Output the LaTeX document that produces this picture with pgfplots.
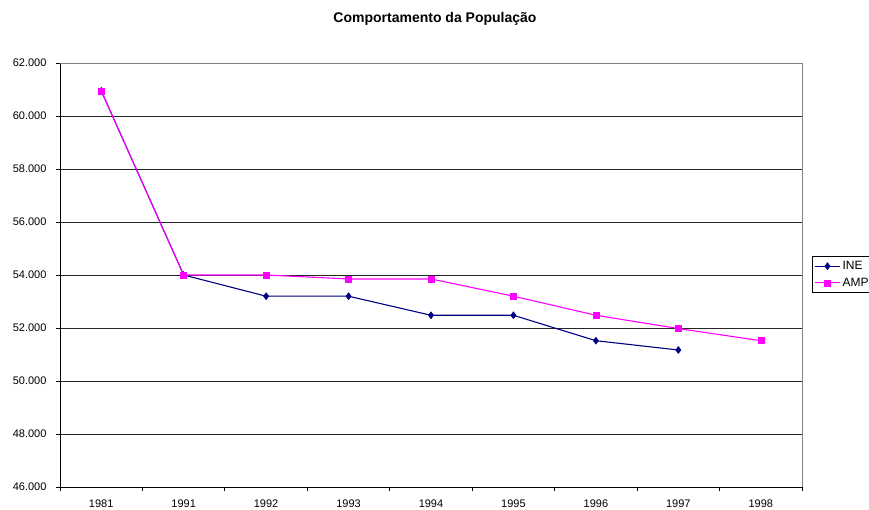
\documentclass[border=0pt]{standalone}
\usepackage{fontspec}
\setmainfont{Liberation Sans}
\usepackage{pgfplots}
\pgfplotsset{compat=1.18}
\definecolor{ine}{RGB}{0,0,128}
\definecolor{amp}{RGB}{255,0,255}
\begin{document}
\begin{tikzpicture}
\path[use as bounding box] (-60pt,-23pt) rectangle (809pt,487pt);
\begin{axis}[
  at={(0,0)}, anchor=south west,
  scale only axis, width=742pt, height=424pt,
  xmin=0, xmax=9, ymin=46000, ymax=62000,
  axis x line*=bottom, axis y line*=left,
  axis line style={black, line width=0.8pt},
  xtick={0,...,9},
  xticklabels={1981,1991,1992,1993,1994,1995,1996,1997,1998,{}},
  x tick label style={xshift=41.22pt, yshift=-5pt},
  y tick label style={xshift=-6pt},
  ytick={46000,48000,...,62000},
  scaled y ticks=false,
  /pgf/number format/assume math mode=true,
  yticklabel={\pgfmathprintnumber[fixed,1000 sep={.},precision=0]{\tick}},
  tick align=outside, major tick length=4pt,
  tick style={black, line width=0.8pt},
  ymajorgrids, major grid style={black!85, line width=0.8pt},
  tick label style={font=\fontsize{11}{13}\selectfont},
  title={\fontsize{14}{16}\selectfont\bfseries Comportamento da População},
  title style={at={(0.5,1)}, anchor=center, yshift=38pt, xshift=4pt},
  legend style={at={(rel axis cs:1.0135,0.545)}, anchor=north west,
    font=\fontsize{12}{14}\selectfont, draw=black, line width=0.8pt,
    inner xsep=2pt, inner ysep=3pt, row sep=3pt, cells={anchor=west}},
  legend image code/.code={
    \draw[mark repeat=2,mark phase=2] plot coordinates {(0cm,0cm) (12.5pt,0cm) (25pt,0cm)};},
  legend cell align=left,
  clip=false,
]
\draw[gray, line width=0.8pt] (rel axis cs:0,1) -- (rel axis cs:1,1) -- (rel axis cs:1,0);
\addplot[ine, line width=1.1pt, mark=diamond*, mark size=3.5pt, mark options={fill=ine, line width=0.5pt}]
  coordinates {(0.5,60950) (1.5,54000) (2.5,53200) (3.5,53200) (4.5,52480) (5.5,52480) (6.5,51520) (7.5,51170)};
\addlegendentry{INE}
\addplot[amp, line width=1.1pt, mark=square*, mark size=3pt, mark options={fill=amp, line width=0.5pt}]
  coordinates {(0.5,60950) (1.5,54000) (2.5,54000) (3.5,53850) (4.5,53850) (5.5,53200) (6.5,52480) (7.5,51980) (8.5,51520)};
\addlegendentry{AMP}
\end{axis}
\end{tikzpicture}
\end{document}
